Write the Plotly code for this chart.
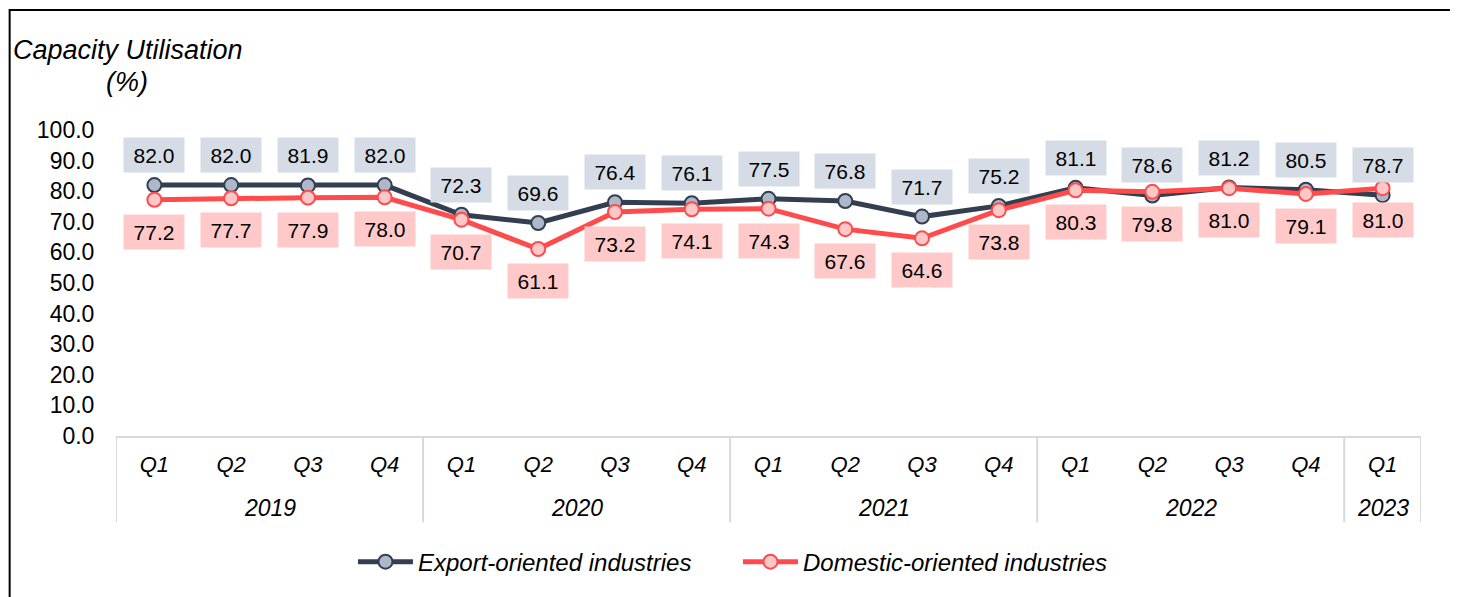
import plotly.graph_objects as go

years = ["2019"] * 4 + ["2020"] * 4 + ["2021"] * 4 + ["2022"] * 4 + ["2023"]
quarters = ["Q1", "Q2", "Q3", "Q4"] * 4 + ["Q1"]
export = [82.0, 82.0, 81.9, 82.0, 72.3, 69.6, 76.4, 76.1, 77.5, 76.8, 71.7, 75.2,
          81.1, 78.6, 81.2, 80.5, 78.7]
domestic = [77.2, 77.7, 77.9, 78.0, 70.7, 61.1, 73.2, 74.1, 74.3, 67.6, 64.6, 73.8,
            80.3, 79.8, 81.0, 79.1, 81.0]
y_ticks = [0, 10, 20, 30, 40, 50, 60, 70, 80, 90, 100]

FONT = "Liberation Sans, Arial, sans-serif"
EXP_LINE, EXP_FILL, EXP_LBL = "#333F50", "#ADB9CA", "#D6DCE5"
DOM_LINE, DOM_FILL, DOM_LBL = "#FF4B4B", "#FFC7C7", "#FFC9C9"
GRID = "#D9D9D9"

x = list(range(len(quarters)))

fig = go.Figure()
fig.add_trace(go.Scatter(
    x=x, y=export, mode="lines+markers", name="Export-oriented industries",
    line=dict(color=EXP_LINE, width=5),
    marker=dict(size=14, color=EXP_FILL, line=dict(color=EXP_LINE, width=2)),
))
fig.add_trace(go.Scatter(
    x=x, y=domestic, mode="lines+markers", name="Domestic-oriented industries",
    line=dict(color=DOM_LINE, width=5),
    marker=dict(size=14, color=DOM_FILL, line=dict(color=DOM_LINE, width=2)),
))

annotations = []
for i, v in enumerate(export):
    annotations.append(dict(x=i, y=v, xref="x", yref="y", text=f"{v:.1f}",
                            showarrow=False, yshift=30, bgcolor=EXP_LBL,
                            width=58, height=32, font=dict(family=FONT, size=21, color="black")))
for i, v in enumerate(domestic):
    annotations.append(dict(x=i, y=v, xref="x", yref="y", text=f"{v:.1f}",
                            showarrow=False, yshift=-32, bgcolor=DOM_LBL,
                            width=58, height=32, font=dict(family=FONT, size=21, color="black")))

# year labels and dividers
shapes = []
groups = []
for i, yv in enumerate(years):
    if not groups or groups[-1][0] != yv:
        groups.append([yv, i, i])
    else:
        groups[-1][2] = i
for yv, a, b in groups:
    annotations.append(dict(x=(a + b) / 2, y=-0.235, xref="x", yref="paper", text=yv,
                            showarrow=False, yanchor="middle",
                            font=dict(family=FONT, size=23, color="black", style="italic")))
    shapes.append(dict(type="line", xref="x", yref="paper", x0=a - 0.5, x1=a - 0.5,
                       y0=0, y1=-0.282, line=dict(color=GRID, width=2)))
shapes.append(dict(type="line", xref="x", yref="paper", x0=len(x) - 0.5, x1=len(x) - 0.5,
                   y0=0, y1=-0.282, line=dict(color=GRID, width=2)))

# chart title (two lines)
annotations.append(dict(x=0.0092, y=1.2614, xref="paper", yref="paper",
                        text="Capacity Utilisation", showarrow=False,
                        xanchor="center", yanchor="middle",
                        font=dict(family=FONT, size=27, color="black", style="italic")))
annotations.append(dict(x=0.0085, y=1.157, xref="paper", yref="paper",
                        text="(%)", showarrow=False,
                        xanchor="center", yanchor="middle",
                        font=dict(family=FONT, size=27, color="black", style="italic")))

# outer border
shapes.append(dict(type="rect", xref="paper", yref="paper", x0=-0.0815, x1=1.0232,
                   y0=-0.55, y1=1.3925, line=dict(color="black", width=2), layer="above"))

fig.update_layout(
    width=1450, height=589,
    margin=dict(l=108, r=37, t=122, b=161),
    paper_bgcolor="white", plot_bgcolor="white",
    font=dict(family=FONT, color="black"),
    showlegend=True,
    legend=dict(orientation="h", x=0.4766, y=-0.412, xanchor="center", yanchor="middle",
                font=dict(family=FONT, size=24, style="italic"), itemwidth=55,
                entrywidth=315, entrywidthmode="pixels",
                bgcolor="rgba(0,0,0,0)"),
    xaxis=dict(range=[-0.5, len(x) - 0.5], tickmode="array", tickvals=x, ticktext=quarters,
               showgrid=False, zeroline=False, showline=True, linecolor=GRID, linewidth=2,
               ticks="outside", ticklen=8, tickcolor="rgba(0,0,0,0)",
               tickfont=dict(family=FONT, size=22, style="italic")),
    yaxis=dict(range=[0, 100], tickmode="array", tickvals=y_ticks, tickformat=".1f",
               showgrid=False, zeroline=False, showline=False,
               ticks="outside", ticklen=16, tickcolor="rgba(0,0,0,0)",
               tickfont=dict(family=FONT, size=23)),
    annotations=annotations, shapes=shapes,
)

fig.write_html("out.html")
